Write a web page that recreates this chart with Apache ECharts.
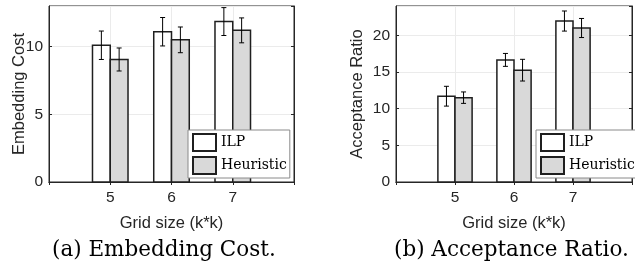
<!DOCTYPE html>
<html>
<head>
<meta charset="utf-8">
<script src="https://cdn.jsdelivr.net/npm/echarts@6/dist/echarts.min.js"></script>
<style>
  html, body { margin: 0; padding: 0; background: #fff; }
  #chart { width: 635px; height: 268px; }
</style>
</head>
<body>
<div id="chart"></div>
<script>
// data
let gridSizes = [5, 6, 7];
let costILP = [10.1, 11.1, 11.85];
let costILPErr = [1.05, 1.05, 1.03];
let costHeur = [9.05, 10.5, 11.2];
let costHeurErr = [0.85, 0.95, 0.92];
let ratioILP = [11.7, 16.65, 21.95];
let ratioILPErr = [1.35, 0.88, 1.37];
let ratioHeur = [11.5, 15.25, 21.0];
let ratioHeurErr = [0.78, 1.48, 1.3];

let sans = 'Liberation Sans, Arial, sans-serif';
let serif = 'DejaVu Serif, serif';
let barW = 0.29;

function rows(vals, errs) {
    return gridSizes.map(function(g, i) { return [g, vals[i], errs[i]]; });
}

// offset -1 = left of tick, 0 = right of tick
function barRenderer(offset) {
    return function(params, api) {
        let x = api.value(0), y = api.value(1), e = api.value(2);
        let w = api.size([barW, 0])[0];
        let top = api.coord([x, y]);
        let base = api.coord([x, 0]);
        let hi = api.coord([x, y + e]);
        let lo = api.coord([x, y - e]);
        let left = top[0] + offset * w;
        let cx = left + w / 2;
        let cap = 2.5;
        return {
            type: 'group',
            children: [{
                    type: 'rect',
                    shape: { x: left, y: top[1], width: w, height: base[1] - top[1] },
                    style: { fill: api.visual('color'), stroke: '#1f1f1f', lineWidth: 1.5 }
                },
                {
                    type: 'line',
                    shape: { x1: cx, y1: hi[1], x2: cx, y2: lo[1] },
                    style: { stroke: '#000', lineWidth: 1 }
                },
                {
                    type: 'line',
                    shape: { x1: cx - cap, y1: hi[1], x2: cx + cap, y2: hi[1] },
                    style: { stroke: '#000', lineWidth: 1 }
                },
                {
                    type: 'line',
                    shape: { x1: cx - cap, y1: lo[1], x2: cx + cap, y2: lo[1] },
                    style: { stroke: '#000', lineWidth: 1 }
                }
            ]
        };
    };
}

function xAxisFor(gridIndex, name) {
    return {
        type: 'value',
        gridIndex: gridIndex,
        min: 4,
        max: 8,
        interval: 1,
        name: name,
        nameLocation: 'middle',
        nameGap: 33,
        nameMoveOverlap: false,
        nameTextStyle: { fontFamily: sans, fontSize: 16.5, color: '#262626' },
        axisLine: { show: true, onZero: false, lineStyle: { color: '#262626', width: 1 } },
        axisTick: { show: true, inside: true, length: 3, lineStyle: { color: '#262626' } },
        axisLabel: {
            margin: 8,
            fontFamily: sans,
            fontSize: 15.5,
            color: '#262626',
            formatter: function(v) { return gridSizes.indexOf(v) >= 0 ? String(v) : ''; }
        },
        splitLine: { show: true, lineStyle: { color: '#ebebeb', width: 1 } }
    };
}

function yAxisFor(gridIndex, name, max, gap) {
    return {
        type: 'value',
        gridIndex: gridIndex,
        min: 0,
        max: max,
        interval: 5,
        name: name,
        nameLocation: 'middle',
        nameGap: gap,
        nameMoveOverlap: false,
        nameTextStyle: { fontFamily: sans, fontSize: 16.5, color: '#262626' },
        axisLine: { show: true, lineStyle: { color: '#262626', width: 1 } },
        axisTick: { show: true, inside: true, length: 3, lineStyle: { color: '#262626' } },
        axisLabel: {
            margin: 6,
            fontFamily: sans,
            fontSize: 15.5,
            color: '#262626',
            showMaxLabel: false
        },
        splitLine: { show: true, lineStyle: { color: '#ebebeb', width: 1 } }
    };
}

// top / right frame ticks, no labels
function mirrorX(gridIndex) {
    return {
        type: 'value', gridIndex: gridIndex, position: 'top', min: 4, max: 8, interval: 1,
        axisLine: { show: true, lineStyle: { color: '#262626' } },
        axisTick: { show: true, inside: true, length: 3, lineStyle: { color: '#262626' } },
        axisLabel: { show: false },
        splitLine: { show: false }
    };
}

function mirrorY(gridIndex, max) {
    return {
        type: 'value', gridIndex: gridIndex, position: 'right', min: 0, max: max, interval: 5,
        axisLine: { show: true, lineStyle: { color: '#262626' } },
        axisTick: { show: true, inside: true, length: 3, lineStyle: { color: '#262626' } },
        axisLabel: { show: false },
        splitLine: { show: false }
    };
}

function legendAt(left) {
    return {
        orient: 'vertical',
        left: left,
        top: 130,
        padding: [3, 3, 3, 4],
        itemGap: 4,
        itemWidth: 23,
        itemHeight: 17,
        itemTextGap: 1,
        backgroundColor: '#fff',
        borderColor: '#8a8a8a',
        borderWidth: 1,
        borderRadius: 0,
        selectedMode: false,
        textStyle: { fontFamily: serif, fontSize: 14, color: '#000' },
        data: [
            { name: 'ILP', icon: 'rect', itemStyle: { color: '#fff', borderColor: '#1f1f1f', borderWidth: 2 } },
            { name: 'Heuristic', icon: 'rect', itemStyle: { color: '#d9d9d9', borderColor: '#1f1f1f', borderWidth: 2 } }
        ]
    };
}

let chart = echarts.init(document.getElementById('chart'));
let option = {
    animation: false,
    grid: [
        { left: 49, top: 6, width: 245, height: 176, show: true, borderColor: '#262626', borderWidth: 1, backgroundColor: '#fff' },
        { left: 396, top: 6, width: 245, height: 176, show: true, borderColor: '#262626', borderWidth: 1, backgroundColor: '#fff' }
    ],
    xAxis: [
        xAxisFor(0, 'Grid size (k*k)'),
        xAxisFor(1, 'Grid size (k*k)'),
        mirrorX(0),
        mirrorX(1)
    ],
    yAxis: [
        yAxisFor(0, 'Embedding Cost', 13, 21),
        yAxisFor(1, 'Acceptance Ratio', 24, 30),
        mirrorY(0, 13),
        mirrorY(1, 24)
    ],
    legend: [legendAt(188), legendAt(536)],
    series: [{
            name: 'ILP',
            type: 'custom',
            xAxisIndex: 0,
            yAxisIndex: 0,
            itemStyle: { color: '#fff' },
            renderItem: barRenderer(-1),
            data: rows(costILP, costILPErr)
        },
        {
            name: 'Heuristic',
            type: 'custom',
            xAxisIndex: 0,
            yAxisIndex: 0,
            itemStyle: { color: '#d9d9d9' },
            renderItem: barRenderer(0),
            data: rows(costHeur, costHeurErr)
        },
        {
            name: 'ILP',
            type: 'custom',
            xAxisIndex: 1,
            yAxisIndex: 1,
            itemStyle: { color: '#fff' },
            renderItem: barRenderer(-1),
            data: rows(ratioILP, ratioILPErr)
        },
        {
            name: 'Heuristic',
            type: 'custom',
            xAxisIndex: 1,
            yAxisIndex: 1,
            itemStyle: { color: '#d9d9d9' },
            renderItem: barRenderer(0),
            data: rows(ratioHeur, ratioHeurErr)
        }
    ],
    graphic: [{
            type: 'text',
            left: 52,
            top: 239,
            style: { text: '(a) Embedding Cost.', font: '21.5px "DejaVu Serif", serif', fill: '#000' }
        },
        {
            type: 'text',
            left: 394,
            top: 239,
            style: { text: '(b) Acceptance Ratio.', font: '21.5px "DejaVu Serif", serif', fill: '#000' }
        }
    ]
};
chart.setOption(option);

window.addEventListener('resize', function() {
    chart.resize();
})
</script>
</body>
</html>
